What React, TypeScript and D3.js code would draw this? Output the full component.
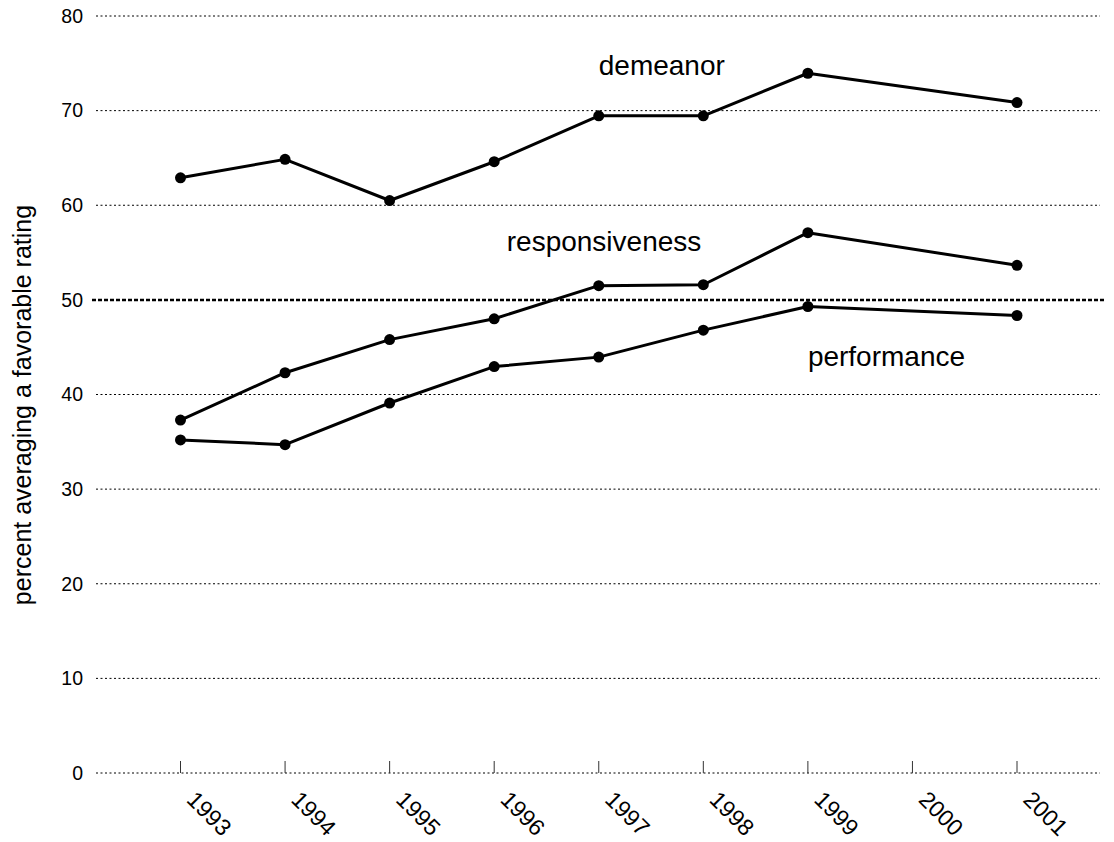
import React from "react";
import * as d3 from "d3";

const years = [1993, 1994, 1995, 1996, 1997, 1998, 1999, 2001];
const tickYears = [1993, 1994, 1995, 1996, 1997, 1998, 1999, 2000, 2001];
const demeanor = [62.9, 64.85, 60.5, 64.6, 69.45, 69.45, 73.95, 70.85];
const responsiveness = [37.3, 42.3, 45.8, 48.0, 51.5, 51.6, 57.1, 53.65];
const performance = [35.2, 34.7, 39.1, 42.95, 43.95, 46.8, 49.3, 48.35];
const yTicks = [0, 10, 20, 30, 40, 50, 60, 70, 80];
const seriesLabels = [
  { name: "demeanor", year: 1997, value: 73.8 },
  { name: "responsiveness", year: 1996.12, value: 55.2 },
  { name: "performance", year: 1999, value: 43.0 },
];

const W = 1114;
const H = 842;
const FONT = "Arial, 'Liberation Sans', Helvetica, sans-serif";

export default function App() {
  const x = d3.scaleLinear().domain([1993, 2001]).range([180.5, 1017]);
  const y = d3.scaleLinear().domain([0, 80]).range([773, 16]);
  const line = d3
    .line<number>()
    .x((_, i) => x(years[i]))
    .y((v) => y(v));
  const series = [demeanor, responsiveness, performance];
  const gridLeft = 96;
  const gridRight = 1100;

  return (
    <svg
      width={W}
      height={H}
      style={{ position: "absolute", left: 0, top: 0, background: "#fff" }}
      fontFamily={FONT}
    >
      {yTicks.map((t) => (
        <g key={t}>
          {t === 50 ? (
            <line
              x1={92}
              x2={1104}
              y1={y(t)}
              y2={y(t)}
              stroke="#000"
              strokeWidth={2.5}
              strokeDasharray="4,2"
            />
          ) : (
            <line
              x1={gridLeft}
              x2={gridRight}
              y1={y(t)}
              y2={y(t)}
              stroke="#000"
              strokeWidth={1}
              strokeDasharray="2,2.5"
            />
          )}
          <text
            x={83}
            y={y(t)}
            dy="0.35em"
            textAnchor="end"
            fontSize={19.5}
            fill="#000"
          >
            {t}
          </text>
        </g>
      ))}
      {tickYears.map((yr) => (
        <g key={yr}>
          <line
            x1={x(yr)}
            x2={x(yr)}
            y1={y(0)}
            y2={y(0) - 12}
            stroke="#333"
            strokeWidth={1}
          />
          <text
            transform={`translate(${x(yr) + 5},${y(0) + 28}) rotate(45)`}
            fontSize={23}
            fill="#000"
          >
            {yr}
          </text>
        </g>
      ))}
      <text
        transform={`translate(31,${(200 + 610) / 2}) rotate(-90)`}
        textAnchor="middle"
        fontSize={25}
        fill="#000"
      >
        percent averaging a favorable rating
      </text>
      {series.map((s, si) => (
        <g key={si}>
          <path d={line(s) || ""} fill="none" stroke="#000" strokeWidth={3} strokeLinejoin="round" />
          {s.map((v, i) => (
            <circle key={i} cx={x(years[i])} cy={y(v)} r={5.5} fill="#000" />
          ))}
        </g>
      ))}
      {seriesLabels.map((l) => (
        <text key={l.name} x={x(l.year)} y={y(l.value)} fontSize={28} fill="#000">
          {l.name}
        </text>
      ))}
    </svg>
  );
}
